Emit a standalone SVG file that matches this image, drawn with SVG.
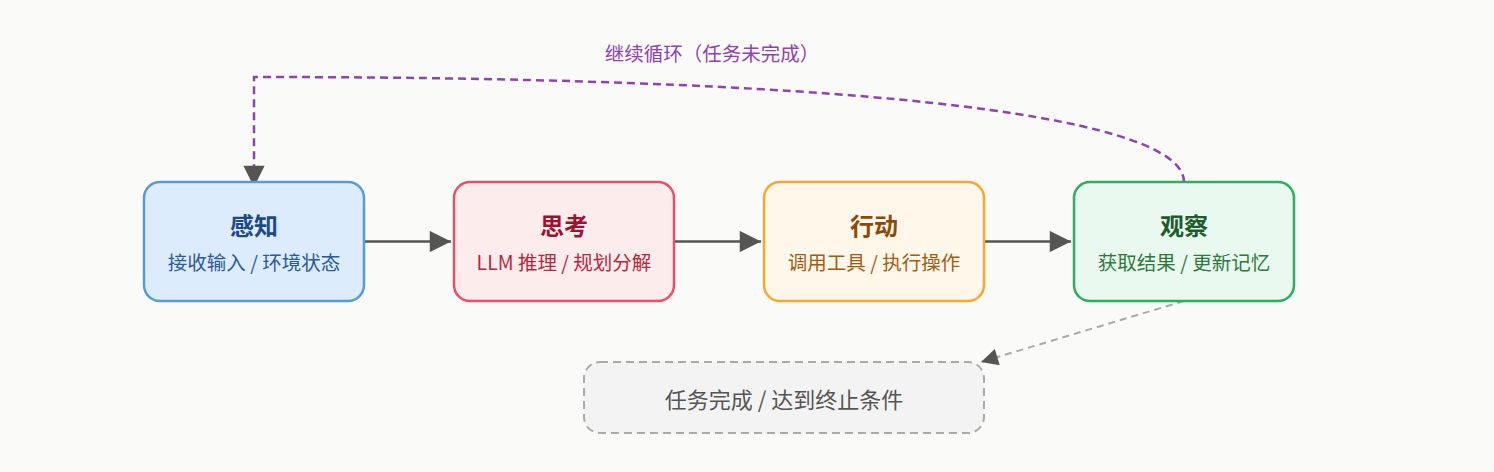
<svg xmlns="http://www.w3.org/2000/svg" width="1494" height="472" viewBox="0 0 1494 472">
<defs>
<style>
.t{font-family:"Noto Sans CJK SC","Liberation Sans",sans-serif;text-anchor:middle}
.title{font-size:24px;font-weight:bold}
.sub{font-size:19.5px}
.box{stroke-width:2.5}
.conn{fill:none;stroke:#555;stroke-width:2.5}
</style>
<marker id="ahl" viewBox="0 0 10 10" refX="10" refY="5" markerWidth="9" markerHeight="8.5" orient="auto">
<path d="M0,0 L10,5 L0,10 z" fill="#555"/>
</marker>
</defs>
<rect width="1494" height="472" fill="#fafaf8"/>
<g id="connectors">
<path d="M364,241.5 L451,241.5" class="conn" marker-end="url(#ahl)"/>
<path d="M674,241.5 L761,241.5" class="conn" marker-end="url(#ahl)"/>
<path d="M984,241.5 L1071,241.5" class="conn" marker-end="url(#ahl)"/>
<path d="M1184,182 C1184,120 900,77 254,77 L254,187" fill="none" stroke="#8e44ad" stroke-width="2.5" stroke-dasharray="8,5" marker-end="url(#ahl)"/>
<path d="M1184,301 L981,362" fill="none" stroke="#aaa" stroke-width="2" stroke-dasharray="7,5" marker-end="url(#ahl)"/>
<text x="712" y="61" class="t" font-size="19.5" fill="#8e44ad">继续循环（任务未完成）</text>
</g>
<g id="perceive">
<rect x="144" y="182" width="220" height="119" rx="16" fill="#dcecfc" stroke="#5b9bd5" class="box"/>
<text x="254" y="235" class="t title" fill="#1b4a86">感知</text>
<text x="254" y="270" class="t sub" fill="#2b5a9a">接收输入 / 环境状态</text>
</g>
<g id="think">
<rect x="454" y="182" width="220" height="119" rx="16" fill="#fdecec" stroke="#e8506a" class="box"/>
<text x="564" y="235" class="t title" fill="#9c1232">思考</text>
<text x="564" y="270" class="t sub" fill="#b5283f">LLM 推理 / 规划分解</text>
</g>
<g id="act">
<rect x="764" y="182" width="220" height="119" rx="16" fill="#fff7ea" stroke="#f5a832" class="box"/>
<text x="874" y="235" class="t title" fill="#8a4a08">行动</text>
<text x="874" y="270" class="t sub" fill="#9e5e12">调用工具 / 执行操作</text>
</g>
<g id="observe">
<rect x="1074" y="182" width="220" height="119" rx="16" fill="#e9f9ef" stroke="#2eae5e" class="box"/>
<text x="1184" y="235" class="t title" fill="#1d5c2c">观察</text>
<text x="1184" y="270" class="t sub" fill="#2e7a3e">获取结果 / 更新记忆</text>
</g>
<g id="done">
<rect x="584" y="362" width="400" height="71" rx="16" fill="#f3f3f3" stroke="#aaa" stroke-width="2" stroke-dasharray="8,5"/>
<text x="784" y="408" class="t" font-size="22" fill="#555">任务完成 / 达到终止条件</text>
</g>
</svg>
